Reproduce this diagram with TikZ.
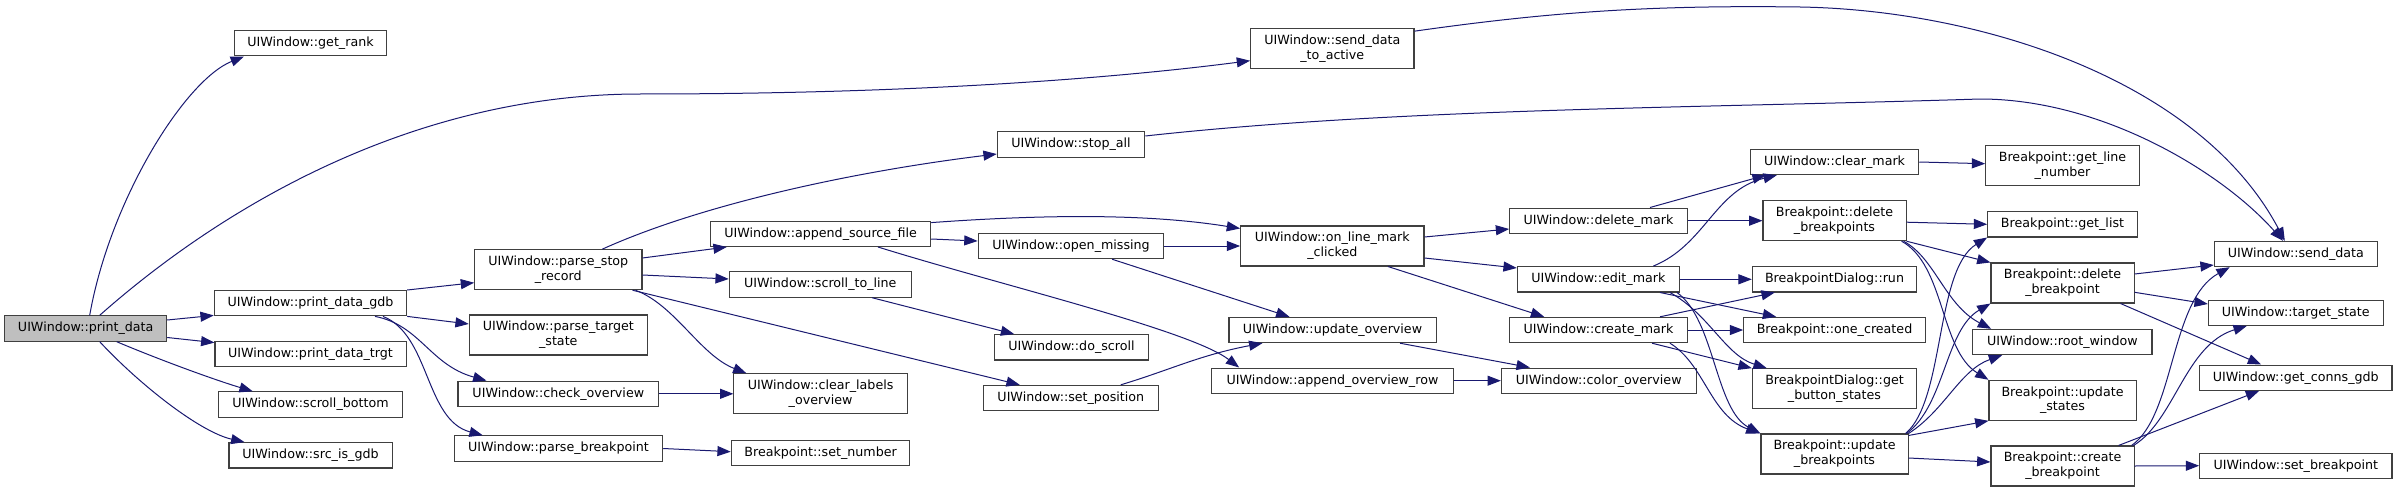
\documentclass[tikz,border=0pt]{standalone}
\usepackage{fontspec}
\setmainfont{DejaVu Sans}
\usetikzlibrary{arrows.meta}
\definecolor{edgeblue}{RGB}{25,25,112}
\definecolor{rootgray}{RGB}{191,191,191}
\definecolor{boxline}{RGB}{64,64,64}

\begin{document}
\begin{tikzpicture}[x=.75pt,y=-.75pt,
  fn/.style={draw=boxline,line width=.8pt,fill=white,inner sep=0pt,minimum height=19pt,align=center,font=\fontsize{9.5}{11}\selectfont},
  fn2/.style={fn,minimum height=30pt},
  call/.style={draw=edgeblue,line width=.75pt,-{Triangle[length=10pt,width=7.5pt]}}]
\useasboundingbox (0,0) rectangle (2397,492);

\node[fn,minimum width=121.5pt,fill=rootgray] (pd) at (85.7,328.5) {UIWindow::print\_data};
\node[fn,minimum width=114pt] (rank) at (310.5,43.3) {UIWindow::get\_rank};
\node[fn,minimum width=144.3pt] (gdb) at (310.5,303.2) {UIWindow::print\_data\_gdb};
\node[fn,minimum width=143.3pt] (trgt) at (310.5,353.8) {UIWindow::print\_data\_trgt};
\node[fn,minimum width=138.3pt] (sbot) at (310.5,404.5) {UIWindow::scroll\_bottom};
\node[fn,minimum width=122.3pt] (srcgdb) at (310.5,455.3) {UIWindow::src\_is\_gdb};
\node[fn2,minimum width=125.5pt] (psr) at (558.3,269.7) {UIWindow::parse\_stop\\\_record};
\node[fn2,minimum width=133.5pt] (pts) at (558.3,335) {UIWindow::parse\_target\\\_state};
\node[fn,minimum width=150.5pt] (chkov) at (558.3,393.8) {UIWindow::check\_overview};
\node[fn,minimum width=156.3pt] (pbp) at (558.5,448.5) {UIWindow::parse\_breakpoint};
\node[fn,minimum width=165.3pt] (asf) at (820.5,233.8) {UIWindow::append\_source\_file};
\node[fn,minimum width=136.5pt] (stl) at (820.3,284.5) {UIWindow::scroll\_to\_line};
\node[fn2,minimum width=130pt] (clo) at (820.6,393.8) {UIWindow::clear\_labels\\\_overview};
\node[fn,minimum width=134pt] (setnum) at (820.6,452.7) {Breakpoint::set\_number};
\node[fn,minimum width=110.6pt] (stopall) at (1071,144.5) {UIWindow::stop\_all};
\node[fn,minimum width=139.3pt] (openmis) at (1071,246) {UIWindow::open\_missing};
\node[fn,minimum width=115.2pt] (doscroll) at (1071.5,347.3) {UIWindow::do\_scroll};
\node[fn,minimum width=131.3pt] (setpos) at (1070.8,398) {UIWindow::set\_position};
\node[fn2,minimum width=122.5pt] (sdta) at (1332.3,48.7) {UIWindow::send\_data\\\_to\_active};
\node[fn2,minimum width=137.5pt] (olmc) at (1332.3,246) {UIWindow::on\_line\_mark\\\_clicked};
\node[fn,minimum width=155.3pt] (updov) at (1332.5,330) {UIWindow::update\_overview};
\node[fn,minimum width=181.2pt] (aor) at (1332.5,380.7) {UIWindow::append\_overview\_row};
\node[fn,minimum width=133.2pt] (delmark) at (1598.5,220.7) {UIWindow::delete\_mark};
\node[fn,minimum width=121.5pt] (editmark) at (1598.3,279.3) {UIWindow::edit\_mark};
\node[fn,minimum width=133.2pt] (crmark) at (1598.5,330) {UIWindow::create\_mark};
\node[fn,minimum width=146pt] (colov) at (1598.7,380.7) {UIWindow::color\_overview};
\node[fn,minimum width=126.3pt] (clrmark) at (1834.5,162) {UIWindow::clear\_mark};
\node[fn2,minimum width=107.3pt] (delbps) at (1834.5,220.7) {Breakpoint::delete\\\_breakpoints};
\node[fn,minimum width=123.3pt] (bdrun) at (1834.5,279.3) {BreakpointDialog::run};
\node[fn,minimum width=136.2pt] (onecr) at (1834.5,330) {Breakpoint::one\_created};
\node[fn2,minimum width=123.3pt] (getbs) at (1834.5,388.7) {BreakpointDialog::get\\\_button\_states};
\node[fn2,minimum width=110.3pt] (updbps) at (1834.5,454) {Breakpoint::update\\\_breakpoints};
\node[fn2,minimum width=115.2pt] (getln) at (2062.5,165.7) {Breakpoint::get\_line\\\_number};
\node[fn,minimum width=112.2pt] (getlist) at (2062.5,224.3) {Breakpoint::get\_list};
\node[fn2,minimum width=107.3pt] (delbp) at (2062.5,283) {Breakpoint::delete\\\_breakpoint};
\node[fn,minimum width=134.5pt] (rootwin) at (2062.3,342) {UIWindow::root\_window};
\node[fn2,minimum width=110.3pt] (updst) at (2062.5,400.3) {Breakpoint::update\\\_states};
\node[fn2,minimum width=107.3pt] (crbp) at (2062.5,466) {Breakpoint::create\\\_breakpoint};
\node[fn,minimum width=122.3pt] (senddata) at (2295.8,254) {UIWindow::send\_data};
\node[fn,minimum width=131pt] (tgtst) at (2295.7,312.7) {UIWindow::target\_state};
\node[fn,minimum width=144.2pt] (conns) at (2295.8,377.7) {UIWindow::get\_conns\_gdb};
\node[fn,minimum width=144.2pt] (setbp) at (2295.8,465.7) {UIWindow::set\_breakpoint};

\draw[call] ([shift={(4,0)}]pd.north) .. controls (110,200) and (185,80) .. ([shift={(10,0)}]rank.south west);
\draw[call] ([shift={(14,0)}]pd.north) .. controls (230,200) and (420,94) .. (640,94) .. controls (900,94) and (1100,80) .. ([shift={(0,12)}]sdta.west);
\draw[call] ([shift={(0,-8.5)}]pd.east) -- ([shift={(0,-1)}]gdb.south west);
\draw[call] ([shift={(0,9)}]pd.east) -- ([shift={(0,2)}]trgt.north west);
\draw[call] ([shift={(31,0)}]pd.south) .. controls (160,360) and (215,380) .. ([shift={(35,0)}]sbot.north west);
\draw[call] ([shift={(14,0)}]pd.south) .. controls (140,385) and (200,432) .. ([shift={(16,0)}]srcgdb.north west);

\draw[call] (gdb.north east) -- ([shift={(0,13)}]psr.west);
\draw[call] (gdb.south east) -- ([shift={(0,-11)}]pts.west);
\draw[call] ([shift={(64.5,0)}]gdb.south) .. controls (420,325) and (430,365) .. ([shift={(29,0)}]chkov.north west);
\draw[call] ([shift={(72.5,0)}]gdb.south) .. controls (430,335) and (425,420) .. ([shift={(29,0)}]pbp.north west);

\draw[call] ([shift={(44,0)}]psr.north) .. controls (700,205) and (850,172) .. ([shift={(0,9.5)}]stopall.west);
\draw[call] ([shift={(0,-11.7)}]psr.east) -- ([shift={(17,0)}]asf.south west);
\draw[call] ([shift={(0,5.3)}]psr.east) -- ([shift={(0,-5.5)}]stl.west);
\draw[call] ([shift={(-7,0)}]psr.south east) .. controls (675,305) and (700,355) .. ([shift={(13,0)}]clo.north west);
\draw[call] ([shift={(-10,0)}]psr.south east) -- ([shift={(37,0)}]setpos.north west);
\draw[call] (chkov.east) -- (clo.west);
\draw[call] (pbp.east) -- ([shift={(0,-1)}]setnum.west);

\draw[call] ([shift={(0,2)}]asf.north east) .. controls (1050,214) and (1150,214) .. ([shift={(0,3)}]olmc.north west);
\draw[call] ([shift={(0,5.2)}]asf.east) -- ([shift={(0,-5)}]openmis.west);
\draw[call] ([shift={(57.5,0)}]asf.south) .. controls (1000,285) and (1190,330) .. ([shift={(28,0)}]aor.north west);
\draw[call] (openmis.east) -- (olmc.west);
\draw[call] ([shift={(41,0)}]openmis.south) -- ([shift={(61,0)}]updov.north west);
\draw[call] ([shift={(51.7,0)}]stl.south) -- ([shift={(20,0)}]doscroll.north west);
\draw[call] ([shift={(50,0)}]setpos.north) .. controls (1170,370) and (1200,355) .. ([shift={(34,0)}]updov.south west);

\draw[call] ([shift={(0,-8.5)}]stopall.east) .. controls (1400,108) and (1700,108) .. (1980,99) .. controls (2100,99) and (2220,170) .. ([shift={(-12.8,0)}]senddata.north);
\draw[call] ([shift={(0,3)}]sdta.north east) .. controls (1550,12) and (1650,5) .. (1800,7) .. controls (1980,10) and (2200,80) .. ([shift={(-11,0)}]senddata.north);

\draw[call] ([shift={(0,-9)}]olmc.east) -- ([shift={(0,8.3)}]delmark.west);
\draw[call] ([shift={(0,12)}]olmc.east) -- ([shift={(0,-11.3)}]editmark.west);
\draw[call] ([shift={(55.7,0)}]olmc.south) -- ([shift={(35,0)}]crmark.north west);
\draw[call] ([shift={(67.5,0)}]updov.south) -- ([shift={(29,0)}]colov.north west);
\draw[call] (aor.east) -- (colov.west);

\draw[call] ([shift={(51.5,0)}]delmark.north) -- ([shift={(16,0)}]clrmark.south west);
\draw[call] (delmark.east) -- (delbps.west);
\draw[call] ([shift={(55,0)}]editmark.north) .. controls (1705,245) and (1715,190) .. ([shift={(27,0)}]clrmark.south west);
\draw[call] (editmark.east) -- (bdrun.west);
\draw[call] ([shift={(61.7,0)}]editmark.south) -- ([shift={(33,0)}]onecr.north west);
\draw[call] ([shift={(71.7,0)}]editmark.south) .. controls (1710,315) and (1725,355) .. ([shift={(15,0)}]getbs.north west);
\draw[call] ([shift={(78.7,0)}]editmark.south) .. controls (1715,320) and (1715,410) .. (updbps.north west);
\draw[call] ([shift={(61.5,0)}]crmark.north) -- ([shift={(23,0)}]bdrun.south west);
\draw[call] (crmark.east) -- (onecr.west);
\draw[call] ([shift={(53.5,0)}]crmark.south) -- (getbs.north west);
\draw[call] ([shift={(71.5,0)}]crmark.south) .. controls (1705,365) and (1710,415) .. ([shift={(-1,0)}]updbps.north west);

\draw[call] (clrmark.east) -- ([shift={(0,-2)}]getln.west);
\draw[call] ([shift={(0,1.5)}]delbps.east) -- (getlist.west);
\draw[call] (delbps.south east) -- (delbp.north west);
\draw[call] ([shift={(-3,0)}]delbps.south east) .. controls (1935,258) and (1945,305) .. ([shift={(19,0)}]rootwin.north west);
\draw[call] ([shift={(-5,0)}]delbps.south east) .. controls (1945,265) and (1940,350) .. (updst.north west);
\draw[call] ([shift={(-3,0)}]updbps.north east) .. controls (1945,400) and (1935,270) .. (getlist.south west);
\draw[call] ([shift={(-2,0)}]updbps.north east) .. controls (1945,405) and (1945,330) .. (delbp.south west);
\draw[call] (updbps.north east) .. controls (1945,410) and (1960,370) .. ([shift={(30,0)}]rootwin.south west);
\draw[call] ([shift={(0,2)}]updbps.north east) -- (updst.south west);
\draw[call] ([shift={(0,4)}]updbps.east) -- ([shift={(0,-4)}]crbp.west);

\draw[call] ([shift={(0,-9)}]delbp.east) -- ([shift={(0,11)}]senddata.west);
\draw[call] ([shift={(0,9.3)}]delbp.east) -- ([shift={(0,-8.7)}]tgtst.west);
\draw[call] ([shift={(-14,0)}]delbp.south east) -- ([shift={(62,0)}]conns.north west);
\draw[call] ([shift={(-3,0)}]crbp.north east) .. controls (2175,415) and (2170,300) .. ([shift={(16,0)}]senddata.south west);
\draw[call] ([shift={(-1,0)}]crbp.north east) .. controls (2175,420) and (2185,345) .. ([shift={(39,0)}]tgtst.south west);
\draw[call] ([shift={(-16,0)}]crbp.north east) -- ([shift={(60,0)}]conns.south west);
\draw[call] (crbp.east) -- (setbp.west);
\end{tikzpicture}
\end{document}
